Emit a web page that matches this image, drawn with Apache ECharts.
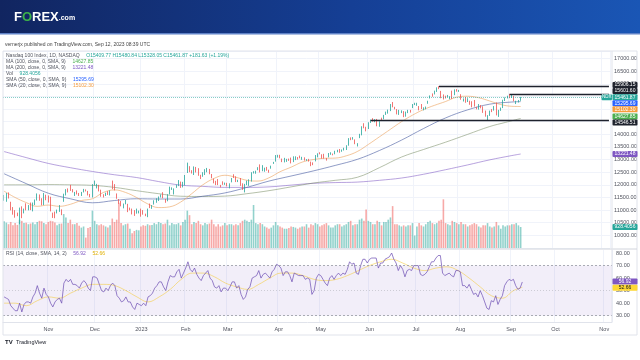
<!DOCTYPE html>
<html><head><meta charset="utf-8">
<script src="https://cdn.jsdelivr.net/npm/echarts@6/dist/echarts.min.js"></script>
<style>html,body{margin:0;padding:0;background:#fff}#c{width:640px;height:360px}</style>
</head><body><div id="c"></div>
<script>
// ---------- DATA (Nasdaq 100, daily, 2022-10-04 .. 2023-09-11) ----------
const opens = [
11390,11420,11530,11300,11090,10880,10810,10500,11100,10880,11250,11060,11110,11000,11320,11390,11450,11440,11230,11590,
11560,11330,10860,10900,10910,11010,11000,11380,11610,11750,11950,11810,11570,11760,11650,11600,11710,11790,11720,11600,11530,
12050,11880,11960,11800,11540,11640,11630,11620,12100,11910,11650,11380,11330,11150,11260,11240,11080,11050,10920,10900,10930,
11000,10920,10850,10820,11130,11100,11240,11420,11370,11520,11620,11400,11390,11630,11840,11710,11950,11960,12070,11900,
12090,12500,12590,12520,12460,12680,12640,12360,12330,12440,12540,12510,12420,12240,12080,12200,11980,12080,12010,
12030,11880,12120,12330,12290,12140,12240,11990,11770,12050,12030,12180,12510,12500,12640,12680,12580,12580,12690,12590,12660,12850,12920,
13140,13170,13030,12950,12990,13030,13060,12910,13060,13090,13150,13020,13010,13000,13000,12910,12830,12940,13130,
13240,13190,13130,13030,13100,13220,13200,13300,13330,13410,13360,13360,13430,13560,13860,13810,13780,13570,13920,13970,14400,14290,
14260,14510,14560,14530,14590,14320,14560,14610,14850,14890,14930,15240,15040,14990,14780,14880,14880,14720,14850,14960,15050,
15200,15160,15060,15060,15000,15070,15260,15440,15580,15600,15700,15860,15700,15540,15480,15480,15440,15700,15560,15770,
15720,15580,15330,15420,15310,15320,15300,15200,15050,15000,15150,15030,14900,14600,14740,14980,14960,15240,14840,15030,15050,15350,15450,
15570,15480,15500,15260,15270,15409.77];
const highs = [
11600,11680,11700,11330,11120,11000,10900,11100,11150,11060,11270,11200,11300,11300,11420,11660,11620,11470,11680,11610,
11580,11530,10900,10940,11020,11200,11030,11650,11830,11860,12000,11830,11720,11780,11680,11720,11840,11820,11760,11640,12030,
12170,12040,12000,11810,11630,11690,11750,11780,12170,12030,11660,11440,11360,11260,11400,11250,11100,11060,11000,11060,10980,
11060,11000,10860,11060,11260,11200,11390,11470,11540,11620,11710,11440,11630,11930,11900,11860,12010,12190,12130,12120,
12390,12880,12740,12580,12730,12710,12660,12400,12500,12620,12670,12630,12430,12250,12160,12230,12000,12140,12090,
12080,12060,12270,12420,12340,12200,12270,12060,12040,12170,12220,12500,12540,12560,12700,12810,12780,12680,12710,12600,12760,12910,13180,
13190,13190,13040,13070,13030,13040,13080,13130,13130,13100,13160,13110,13090,13020,13030,12920,12890,13180,13250,
13290,13210,13230,13060,13260,13290,13240,13350,13390,13420,13400,13470,13570,13850,13880,13890,13800,13650,14020,14320,14440,14300,
14480,14580,14640,14600,14610,14520,14660,14770,14900,14980,15200,15280,15090,15000,14970,14950,14920,14900,14970,14970,15200,
15250,15250,15120,15200,15070,15100,15330,15540,15620,15730,15860,15906.15,15720,15580,15530,15560,15510,15730,15780,15790,
15760,15590,15420,15480,15430,15330,15310,15360,15090,15200,15160,15110,14940,14760,14940,15000,15120,15260,14970,15060,15370,15460,15530,
15601.6,15560,15520,15330,15360,15480.84];
const lows = [
11370,11330,11460,10990,10820,10700,10760,10440,10680,10870,10990,10990,11000,10950,11200,11380,11370,11190,11200,11390,
11300,10950,10690,10680,10870,10930,10800,11330,11580,11700,11760,11700,11560,11620,11560,11560,11700,11740,11580,11510,11500,
11980,11860,11740,11530,11500,11560,11600,11580,11830,11780,11450,11250,11150,11070,11230,10920,10990,10830,10770,10860,10870,
10740,10820,10760,10720,11080,11050,11220,11290,11360,11500,11470,11290,11350,11620,11800,11620,11880,11950,11880,11900,
11980,12470,12500,12450,12390,12490,12360,12230,12320,12390,12500,12420,12260,12060,11990,11990,11900,12000,12000,
11940,11860,12100,12270,12110,12110,11960,11800,11700,11990,11960,12130,12450,12440,12580,12490,12540,12520,12560,12480,12640,12830,12920,
13080,13050,12900,12890,12910,12950,12850,12900,12980,13000,13050,12990,12960,12950,12920,12740,12780,12930,13090,
13210,13040,13040,12960,13090,13190,13170,13210,13290,13270,13310,13360,13380,13550,13770,13790,13610,13520,13850,13960,14240,14120,
14210,14450,14500,14480,14320,14300,14530,14600,14770,14820,14920,15070,14990,14790,14770,14840,14680,14700,14840,14860,15040,
15160,15130,14950,15000,14950,14990,15210,15420,15490,15580,15680,15790,15430,15380,15420,15470,15390,15400,15550,15690,
15680,15370,15300,15250,15280,15170,15070,15100,14990,14980,15030,14850,14700,14557,14730,14880,14940,14750,14690,14930,15040,15320,15420,
15430,15440,15310,15200,15260,15328.05];
const closes = [
11592,11564,11476,11040,10914,10791,10789,11037,10693,11042,11138,11121,11040,11290,11395,11645,11394,11206,11666,11405,
11330,10959,10751,10880,11000,11070,10810,11610,11800,11720,11880,11710,11690,11680,11570,11720,11830,11760,11590,11520,12030,
12060,12030,11800,11580,11530,11680,11620,11770,11910,11830,11450,11350,11180,11190,11360,11100,11080,10930,10780,11030,10940,
10860,10910,10760,11040,11110,11180,11380,11450,11540,11560,11470,11320,11630,11880,11850,11840,12010,12140,11890,12100,
12300,12800,12570,12480,12720,12490,12380,12300,12490,12590,12670,12440,12360,12060,12060,12140,11950,12020,12040,
11960,12040,12260,12300,12130,12190,11980,11830,11900,12150,12210,12480,12520,12550,12680,12490,12620,12670,12600,12520,12750,12880,13180,
13150,13090,12960,13060,13030,12970,12860,13120,13080,13080,13080,13090,12990,13010,12970,12740,12820,13160,13250,
13230,13120,13040,12980,13240,13280,13200,13340,13390,13340,13400,13380,13550,13830,13800,13830,13630,13610,13940,14300,14350,14250,
14460,14546.51,14550,14560,14310,14500,14540,14770,14880,14970,15180,15080,15000,14790,14970,14890,14680,14890,14920,14910,15180,
15210,15220,15040,15030,15040,15100,15310,15540,15570,15710,15830,15840,15470,15420,15460,15520,15470,15440,15750,15760,
15730,15380,15350,15270,15410,15270,15090,15110,15020,15200,15030,14860,14700,14690,14940,14890,15110,14780,14940,15050,15350,15430,15500,
15480,15530,15370,15300,15280.24,15461.87];
const volumes = [
1180,1120,1050,1150,1000,1100,1020,1250,1200,1100,1120,1050,1080,1130,1050,1150,1200,1180,1100,1050,
1150,1200,1180,1130,1000,1070,1080,1500,1350,1100,1250,1050,1050,1100,980,900,950,460,880,930,1650,
1200,1050,1000,1050,1000,950,900,1000,1300,1150,1250,2000,1100,1000,1050,1080,850,650,750,800,780,
950,1000,980,1050,1000,1020,1100,1050,1150,1100,1050,1080,1250,1000,1100,1050,1050,1100,1000,1150,
1250,1650,1450,1050,1150,1100,1200,1050,1000,1100,1050,1080,1250,1050,950,1050,950,1000,1100,
1000,1050,1050,1000,1050,1000,1100,1200,1250,1200,1150,1250,1900,1100,1050,1100,1050,950,900,850,900,1000,1150,
1000,950,900,850,850,880,950,930,900,850,900,950,950,1050,900,1050,1000,1100,1050,
950,1000,1050,1100,1000,900,900,1000,1050,1050,950,1000,1050,1150,1200,1000,1050,1050,1250,1300,1200,1700,
1200,1150,1050,1050,1200,1150,1000,1150,1150,1250,1350,1850,1050,1050,1000,950,1000,950,1000,1000,1100,
550,950,1100,1000,950,1050,1150,1200,1100,1050,1100,1200,1250,2150,1100,1050,1000,1200,1150,1100,
1050,1150,1050,1050,950,1000,1050,1100,1050,950,900,1000,1000,1100,950,900,950,1150,1000,850,1000,950,1000,
1000,1050,1050,1100,1000,928.4056];
const rsiValues = [
45,44,43,38,36,34,34,40,33,39,41,41,40,45,48,54,48,44,52,47,
45,40,37,41,43,44,40,56,59,57,59,55,55,54,52,56,58,56,52,50,61,
61,60,55,50,49,52,50,54,56,54,46,44,41,42,45,41,41,37,35,40,39,
38,40,38,45,46,48,52,54,57,57,53,50,57,62,61,61,65,67,60,64,
68,73,67,65,68,63,60,58,62,64,66,60,58,53,52,54,49,52,52,
50,53,57,57,52,54,47,43,45,51,53,60,61,62,66,60,63,64,62,60,65,67,71,
70,68,62,65,65,62,57,64,63,62,62,62,59,60,59,47,50,60,63,
62,59,56,54,60,62,59,62,64,62,64,63,67,73,71,72,64,63,70,75,75,72,
75,76,76,76,68,72,72,75,76,77,80,75,72,66,70,67,61,66,67,66,70,
70,70,63,62,63,65,69,73,73,76,78,78,64,62,63,64,62,61,66,66,
65,54,54,52,55,51,47,48,45,50,46,41,36,35,42,41,46,39,43,46,54,57,59,
58,59,54,51,52,56.92];
// moving averages read at sampled trading days (day index into the series)
const sma20Day = [0,5,10,15,20,25,30,35,40,45,50,55,60,65,70,75,80,85,90,95,100,105,110,115,120,125,130,135,140,145,150,155,160,165,170,175,180,185,190,195,200,205,210,215,220,225,230,234];
const sma20Val = [11750,11500,11300,11150,11200,11150,11230,11380,11450,11700,11800,11700,11500,11250,11100,11130,11320,11650,12000,12250,12380,12300,12180,12150,12280,12520,12700,12900,13000,13050,13060,13150,13320,13600,13900,14200,14500,14760,14980,15150,15300,15470,15510,15450,15320,15180,15110,15102.30];
const sma50Day = [0,10,20,30,40,50,60,70,80,90,100,110,120,130,140,150,160,170,180,190,200,210,220,230,234];
const sma50Val = [12440,12050,11670,11450,11290,11380,11450,11440,11440,11550,11680,11900,12150,12350,12550,12770,13010,13360,13770,14230,14650,14970,15195,15280,15295.69];
const ma100Day = [0,10,20,30,40,50,60,70,80,90,100,110,120,130,140,150,160,170,180,190,200,210,220,227,234];
const ma100Val = [12000,12000,12010,12000,11980,11900,11770,11650,11550,11540,11555,11650,11770,11920,12070,12180,12300,12680,13100,13400,13690,14000,14310,14470,14627.85];
const ma200Day = [0,10,20,30,40,50,60,70,80,90,100,110,120,130,140,150,160,170,180,190,200,210,220,230,234];
const ma200Val = [13318,13080,12850,12680,12530,12400,12290,12130,11990,11940,11900,11900,11920,11990,12060,12090,12110,12180,12270,12420,12600,12790,12990,13160,13221.48];
const rsiSmaDay = [0,5,10,15,20,25,30,35,40,45,50,55,60,65,70,75,80,85,90,95,100,105,110,115,120,125,130,135,140,145,150,155,160,165,170,175,180,185,190,195,200,205,210,215,220,225,230,234];
const rsiSmaVal = [40,40,38,42,45,44,48,52,55,55,54,50,45,41,45,51,59,64,64,61,56,53,51,55,60,64,64,62,59,58,59,62,66,70,73,75,72,68,66,68,69,66,60,53,46,44,50,52.66];
// drawn horizontal levels: start day index and price
const levelDay = [197, 229, 166];
const levelVal = [15906.15, 15601.60, 14546.51];
const priceTicks = {min: 9500, max: 17300, step: 500};
const lastClose = 15461.87;
const lastVol = 928.4056;
const rsiLast = 56.92, rsiSmaLast = 52.66;
const legendOHLC = 'O15409.77 H15480.84 L15328.05 C15461.87 +181.63 (+1.19%)';

// ---------- calendar (trading days incl. empty future space) ----------
const holidays = new Set(['2022-11-24','2022-12-26','2023-01-02','2023-01-16','2023-02-20','2023-04-07','2023-05-29','2023-06-19','2023-07-04','2023-09-04']);
function buildDays(n){const out=[];let t=Date.UTC(2022,9,4);while(out.length<n){const d=new Date(t);const w=d.getUTCDay();const s=d.toISOString().slice(0,10);if(w!==0&&w!==6&&!holidays.has(s))out.push(s);t+=86400000;}return out;}
const days = buildDays(275);
const MN = ['Jan','Feb','Mar','Apr','May','Jun','Jul','Aug','Sep','Oct','Nov','Dec'];
const isFirst = days.map((s,i)=> i>0 && s.slice(5,7)!==days[i-1].slice(5,7));
const monthLabel = s => { const m=+s.slice(5,7); return m===1 ? s.slice(0,4) : MN[m-1]; };

const FONT = '"Liberation Sans", Arial, sans-serif';
const UP='#26a69a', DOWN='#ef5350';
const GL = 3, GR = 28;

const candles = opens.map((o,i)=>[o, closes[i], lows[i], highs[i]]);
const vols = volumes.map((v,i)=>({value:v, itemStyle:{color: closes[i]>=opens[i] ? 'rgba(38,166,154,0.5)' : 'rgba(239,83,80,0.5)'}}));
const pts = (d,v)=>d.map((x,i)=>[days[x], v[i]]);

const xBase = {type:'category', data:days, boundaryGap:true, axisTick:{show:false},
  splitLine:{show:true, interval:(i)=>isFirst[i], lineStyle:{color:'#f0f3fa', width:1}}};

const option = {
  animation:false,
  backgroundColor:'#ffffff',
  grid:[{left:GL, right:GR, top:51, height:197}, {left:GL, right:GR, top:250, height:72}],
  xAxis:[
    Object.assign({}, xBase, {gridIndex:0, axisLine:{show:false}, axisLabel:{show:false}}),
    Object.assign({}, xBase, {gridIndex:1, axisLine:{show:true, lineStyle:{color:'#e0e3eb'}},
      axisLabel:{show:true, interval:(i)=>isFirst[i], formatter:(v)=>monthLabel(v), fontSize:5.5, color:'#50535e', margin:4, fontFamily:FONT}})
  ],
  yAxis:[
    {type:'value', gridIndex:0, position:'right', min:priceTicks.min, max:priceTicks.max, interval:priceTicks.step,
      axisLine:{show:false}, axisTick:{show:false}, splitLine:{lineStyle:{color:'#f0f3fa'}},
      axisLabel:{fontSize:5.5, color:'#50535e', margin:4, fontFamily:FONT, formatter:v=>v.toFixed(2), showMinLabel:false, showMaxLabel:false}},
    {type:'value', gridIndex:0, min:0, max:8700, show:false},
    {type:'value', gridIndex:1, position:'right', min:25, max:82.4, interval:5,
      axisLine:{show:false}, axisTick:{show:false}, splitLine:{show:false},
      axisLabel:{fontSize:5.5, color:'#50535e', margin:4, fontFamily:FONT, formatter:v=> (Math.abs(v%10)<1e-6 ? v.toFixed(2) : ''), showMinLabel:false, showMaxLabel:false}}
  ],
  series:[
    {type:'bar', name:'Vol', xAxisIndex:0, yAxisIndex:1, data:vols, barWidth:'72%', silent:true, z:1},
    {type:'line', name:'MA200', xAxisIndex:0, yAxisIndex:0, data:pts(ma200Day,ma200Val), smooth:0.4, symbol:'none', lineStyle:{color:'rgba(126,87,194,0.55)', width:1}, z:2},
    {type:'line', name:'MA100', xAxisIndex:0, yAxisIndex:0, data:pts(ma100Day,ma100Val), smooth:0.4, symbol:'none', lineStyle:{color:'rgba(120,140,100,0.55)', width:1}, z:2},
    {type:'line', name:'SMA50', xAxisIndex:0, yAxisIndex:0, data:pts(sma50Day,sma50Val), smooth:0.4, symbol:'none', lineStyle:{color:'rgba(70,90,160,0.6)', width:1}, z:2},
    {type:'line', name:'SMA20', xAxisIndex:0, yAxisIndex:0, data:pts(sma20Day,sma20Val), smooth:0.4, symbol:'none', lineStyle:{color:'rgba(235,160,90,0.6)', width:1}, z:2},
    {type:'candlestick', name:'NDX', xAxisIndex:0, yAxisIndex:0, data:candles, barWidth:1.3, z:3,
      itemStyle:{color:UP, color0:DOWN, borderColor:UP, borderColor0:DOWN, borderWidth:0.8},
      markLine:{silent:true, symbol:'none', label:{show:false}, animation:false,
        data:[
          {yAxis:lastClose, lineStyle:{color:'rgba(38,166,154,0.55)', type:'dotted', width:1}},
          ...levelDay.map((d,i)=>[{coord:[days[d], levelVal[i]], lineStyle:{color:'#1e222d', width:1.4, type:'solid'}}, {coord:[days[days.length-1], levelVal[i]]}])
        ]}},
    {type:'line', name:'RSI', xAxisIndex:1, yAxisIndex:2, data:rsiValues, symbol:'none', lineStyle:{color:'rgba(110,80,180,0.8)', width:0.9}, z:3,
      markArea:{silent:true, itemStyle:{color:'rgba(126,87,194,0.1)'}, data:[[{yAxis:30},{yAxis:70}]]},
      markLine:{silent:true, symbol:'none', label:{show:false},
        data:[{yAxis:70, lineStyle:{color:'#9598a1', type:[2,2], width:0.8}},{yAxis:50, lineStyle:{color:'rgba(149,152,161,0.5)', type:[1,2], width:0.8}},{yAxis:30, lineStyle:{color:'#9598a1', type:[2,2], width:0.8}}]}},
    {type:'line', name:'RSI SMA', xAxisIndex:1, yAxisIndex:2, data:pts(rsiSmaDay,rsiSmaVal), smooth:0.4, symbol:'none', lineStyle:{color:'rgba(245,205,70,0.6)', width:1}, z:2}
  ]
};

const chart = echarts.init(document.getElementById('c'), null, {renderer:'canvas'});
chart.setOption(option);

// ---------- graphics: header, texts, tags ----------
const G = [];
const T = (x,y,text,o)=>({type:'text', z:100, silent:true, style:Object.assign({x, y, text, fill:'#50535e', fontSize:5, fontFamily:FONT, verticalAlign:'middle', align:'left'}, o||{})});
G.push({type:'rect', z:99, silent:true, shape:{x:0,y:0,width:640,height:33},
  style:{fill:{type:'linear', x:0,y:0,x2:1,y2:0, colorStops:[{offset:0,color:'#112560'},{offset:0.55,color:'#153f95'},{offset:1,color:'#1a56b5'}]}}});
G.push({type:'rect', z:99, silent:true, shape:{x:0,y:33,width:640,height:1.5}, style:{fill:'#5f82c7'}});
G.push({type:'text', z:100, silent:true, style:{x:14, y:17, text:'{w|F}{g|O}{w|REX}{s|.com}', verticalAlign:'middle',
  rich:{w:{fill:'#ffffff', fontSize:13, fontWeight:'bold', fontFamily:FONT}, g:{fill:'#3cb04a', fontSize:13, fontWeight:'bold', fontFamily:FONT}, s:{fill:'#ffffff', fontSize:7, fontWeight:'bold', fontFamily:FONT, padding:[3,0,0,0]}}}});
G.push(T(5, 45, 'vernerjx published on TradingView.com, Sep 12, 2023 08:39 UTC', {fill:'#444'}));
// frame & separators
G.push({type:'rect', z:98, silent:true, shape:{x:3,y:51,width:634,height:284}, style:{fill:'none', stroke:'#e0e3eb', lineWidth:1}});
G.push({type:'line', z:98, silent:true, shape:{x1:3,y1:249,x2:637,y2:249}, style:{stroke:'#d1d4dc', lineWidth:1}});
G.push({type:'line', z:98, silent:true, shape:{x1:612,y1:51,x2:612,y2:322}, style:{stroke:'#e0e3eb', lineWidth:1}});
// legend
const leg = (y, label, value, col) => ({type:'text', z:100, silent:true, style:{x:6, y, verticalAlign:'middle', text:'{l|'+label+'}  {v|'+value+'}',
  rich:{l:{fill:'#50535e', fontSize:5, fontFamily:FONT}, v:{fill:col, fontSize:5, fontFamily:FONT}}}});
G.push(leg(56, 'Nasdaq 100 Index, 1D, NASDAQ', legendOHLC, '#26a69a'));
G.push(leg(62, 'MA (100, close, 0, SMA, 9)', ma100Val[ma100Val.length-1].toFixed(2), '#4caf50'));
G.push(leg(68, 'MA (200, close, 0, SMA, 9)', ma200Val[ma200Val.length-1].toFixed(2), '#7e57c2'));
G.push(leg(74, 'Vol', lastVol.toFixed(4), '#26a69a'));
G.push(leg(80, 'SMA (50, close, 0, SMA, 9)', sma50Val[sma50Val.length-1].toFixed(2), '#2962ff'));
G.push(leg(86, 'SMA (20, close, 0, SMA, 9)', sma20Val[sma20Val.length-1].toFixed(2), '#f59c3c'));
G.push({type:'text', z:100, silent:true, style:{x:6, y:254, verticalAlign:'middle', text:'{l|RSI (14, close, SMA, 14, 2)}  {a|'+rsiLast.toFixed(2)+'}  {b|'+rsiSmaLast.toFixed(2)+'}',
  rich:{l:{fill:'#50535e', fontSize:5, fontFamily:FONT}, a:{fill:'#7e57c2', fontSize:5, fontFamily:FONT}, b:{fill:'#e0b000', fontSize:5, fontFamily:FONT}}}});
G.push({type:'text', z:100, silent:true, style:{x:5, y:342, verticalAlign:'middle', text:'{i|TV} {l|TradingView}',
  rich:{i:{fill:'#131722', fontSize:6, fontWeight:'bold', fontFamily:FONT}, l:{fill:'#131722', fontSize:5.5, fontFamily:FONT}}}});

// tags on the price / rsi scales (positions via the library's scales)
function spread(list, h){ list.sort((a,b)=>a.y-b.y); for(let k=0;k<200;k++){let mv=false; for(let i=1;i<list.length;i++){const d=list[i].y-list[i-1].y; if(d<h-0.01){const o=(h-d)/2; list[i-1].y-=o; list[i].y+=o; mv=true;}} if(!mv)break;} return list; }
function tag(y, label, bg, fg){ G.push({type:'rect', z:101, silent:true, shape:{x:612.5, y:y-3, width:25, height:6, r:1}, style:{fill:bg}});
  G.push({type:'text', z:102, silent:true, style:{x:625, y, text:label, fill:fg||'#fff', fontSize:5, fontFamily:FONT, align:'center', verticalAlign:'middle'}}); }
const py = v => chart.convertToPixel({yAxisIndex:0}, v);
const priceTags = spread([
  {v:levelVal[0], bg:'#1e222d'}, {v:levelVal[1], bg:'#1e222d'}, {v:lastClose, bg:UP, ndx:true},
  {v:sma50Val[sma50Val.length-1], bg:'#2962ff'}, {v:sma20Val[sma20Val.length-1], bg:'#f59c3c'},
  {v:ma100Val[ma100Val.length-1], bg:'#4caf50'}, {v:levelVal[2], bg:'#1e222d'}, {v:ma200Val[ma200Val.length-1], bg:'#7e57c2'}
].map(t=>Object.assign(t,{y:py(t.v)})), 6.1);
priceTags.forEach(t=>{ tag(t.y, t.v.toFixed(2), t.bg);
  if(t.ndx){ G.push({type:'rect', z:101, silent:true, shape:{x:601.5, y:t.y-3, width:10.5, height:6, r:1}, style:{fill:UP}});
    G.push({type:'text', z:102, silent:true, style:{x:606.7, y:t.y, text:'NDX', fill:'#fff', fontSize:4.5, fontFamily:FONT, align:'center', verticalAlign:'middle'}}); } });
tag(chart.convertToPixel({yAxisIndex:1}, lastVol), lastVol.toFixed(4), UP);
const rsiTags = spread([{v:rsiLast, bg:'#7e57c2'}, {v:rsiSmaLast, bg:'#fdd835', fg:'#131722'}].map(t=>Object.assign(t,{y:chart.convertToPixel({yAxisIndex:2}, t.v)})), 6.1);
rsiTags.forEach(t=>tag(t.y, t.v.toFixed(2), t.bg, t.fg));

chart.setOption({graphic:G});
</script>
</body></html>
